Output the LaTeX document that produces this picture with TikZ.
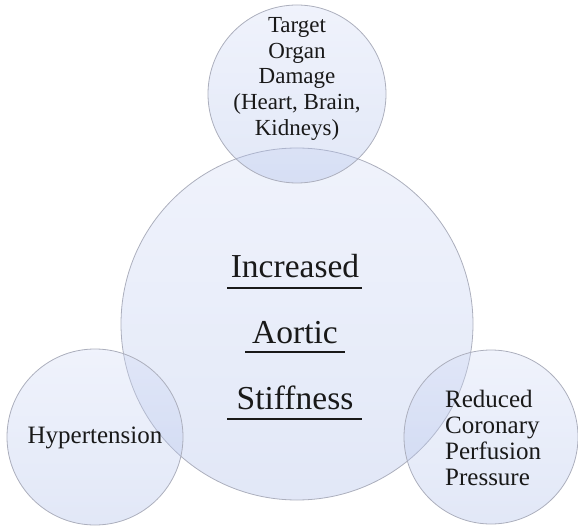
\documentclass[tikz,border=0pt]{standalone}
\usepackage{fontspec}
\setmainfont{Liberation Serif}
\begin{document}
\begin{tikzpicture}[x=1pt,y=-1pt,
  bubble/.style={circle, inner sep=0pt, outer sep=0pt, draw=edgegray, line width=0.8pt,
    top color=bubtop, bottom color=bubbot, fill opacity=0.34, draw opacity=1, text opacity=1},
  bigtxt/.style={font=\fontsize{33.5}{40}\selectfont, inner sep=0pt, anchor=base, text=black!90},
  smalltxt/.style={font=\fontsize{25}{26}\selectfont, inner sep=0pt, text=black!90},
  toptxt/.style={font=\fontsize{23}{25.8}\selectfont, inner sep=0pt, align=center, anchor=north, text=black!90},
  uline/.style={line width=2.6pt, black!90}]
\definecolor{edgegray}{HTML}{ACAFBD}
\definecolor{bubtop}{HTML}{D2DBF5}
\definecolor{bubbot}{HTML}{A9BAE8}
\useasboundingbox (0,0) rectangle (578,529);
\node[bubble, minimum size=352pt] (big) at (297,324) {};
\node[bubble, minimum size=178pt] (top) at (297,94) {};
\node[bubble, minimum size=176pt] (left) at (95,437) {};
\node[bubble, minimum size=174pt] (right) at (491,437) {};
% texts
\node[toptxt] (toptext) at (297,17) {Target\\Organ\\Damage\\(Heart, Brain,\\Kidneys)};
\node[smalltxt, anchor=base] (hyp) at (95,443) {Hypertension};
\node[smalltxt, anchor=north west, align=left] (red) at (445,390) {Reduced\\Coronary\\Perfusion\\Pressure};
\node[bigtxt] (inc) at (295,278) {Increased};
\node[bigtxt] (aor) at (295,343) {Aortic};
\node[bigtxt] (sti) at (295,409) {Stiffness};
% underlines
\coordinate (u1a) at (227,288); \coordinate (u1b) at (362,288);
\coordinate (u2a) at (245,352); \coordinate (u2b) at (345,352);
\coordinate (u3a) at (227,419); \coordinate (u3b) at (362,419);
\draw[uline] (u1a) -- (u1b);
\draw[uline] (u2a) -- (u2b);
\draw[uline] (u3a) -- (u3b);
\end{tikzpicture}
\end{document}
